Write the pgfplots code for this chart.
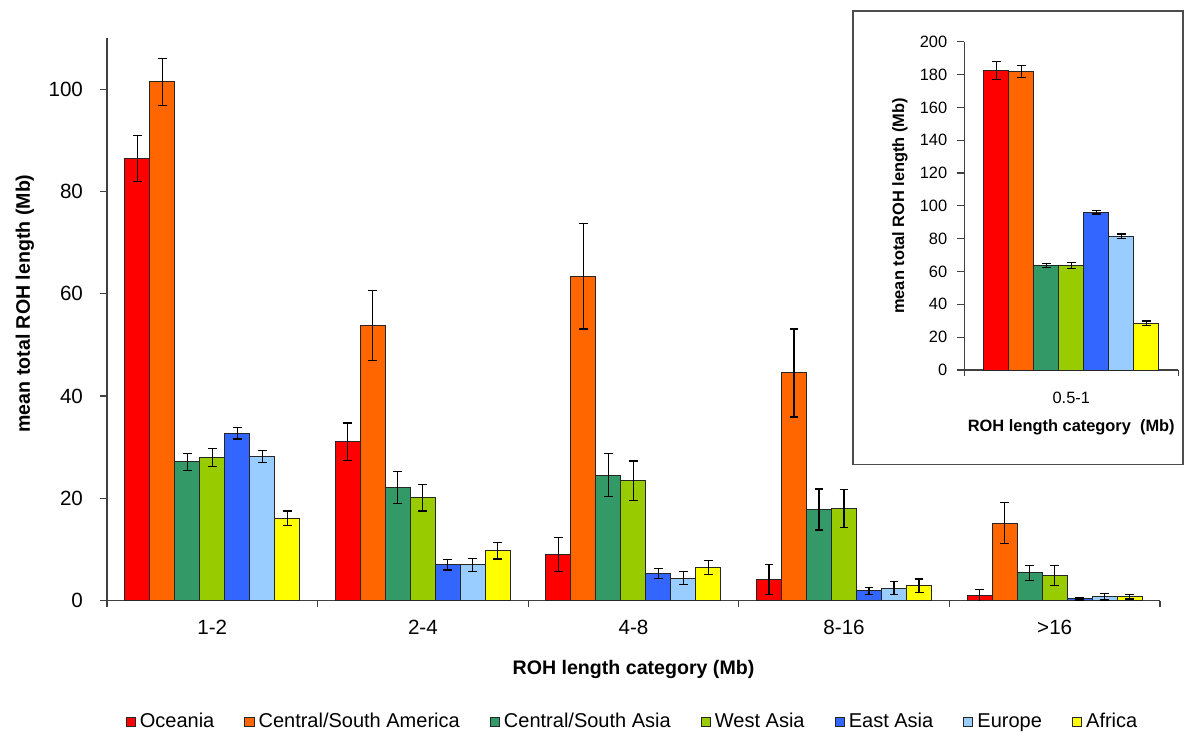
\documentclass[border=0pt]{standalone}
\usepackage{fontspec}
\setmainfont{Liberation Sans}
\usepackage{pgfplots}
\pgfplotsset{compat=1.18}
\definecolor{cOce}{HTML}{FF0000}
\definecolor{cCSA}{HTML}{FF6600}
\definecolor{cCSAs}{HTML}{339966}
\definecolor{cWAs}{HTML}{99CC00}
\definecolor{cEAs}{HTML}{3366FF}
\definecolor{cEur}{HTML}{99CCFF}
\definecolor{cAfr}{HTML}{FFFF00}
\definecolor{axgray}{HTML}{404040}
\pgfplotsset{
  roh/.style={
    scale only axis,
    axis lines=left,
    axis line style={-, draw=axgray, line width=0.6pt},
    tick style={draw=axgray, line width=0.6pt},
    tick align=outside,
    major tick length=3.5pt,
    minor tick length=3pt,
    major x tick style={draw=none},
    ybar=0pt,
    bar width=12.5pt,
    /pgf/number format/assume math mode=true,
    every axis plot/.append style={draw=black!85, line width=0.5pt},
    error bars/y dir=both,
    error bars/y explicit,
    error bars/error bar style={black, line width=0.6pt},
    error bars/error mark options={black, line width=0.6pt, mark size=2.2pt, rotate=90},
    legend image code/.code={\draw[#1, line width=0.5pt] (0pt,-2.3pt) rectangle (4.6pt,2.3pt);},
  }
}
\begin{document}
\begin{tikzpicture}
\path[use as bounding box] (-53.5pt,-67.25pt) rectangle (539pt,300.25pt);
\begin{axis}[roh,
  at={(0,0)}, anchor=south west,
  width=526.5pt, height=281.25pt,
  xmin=0.5, xmax=5.5, ymin=0, ymax=110,
  ytick={0,20,...,100},
  xtick={1,...,5}, xticklabels={1-2,2-4,4-8,8-16,>16},
  minor xtick={0.5,1.5,...,5.5},
  tick label style={font=\fontsize{10.3}{12}\selectfont},
  xticklabel style={yshift=-3pt},
  yticklabel style={xshift=-5pt},
  xlabel={ROH length category (Mb)},
  ylabel={mean total ROH length (Mb)},
  label style={font=\bfseries\fontsize{9.8}{12}\selectfont},
  xlabel style={at={(axis description cs:0.5,-0.1227)}, anchor=center},
  ylabel style={at={(axis description cs:-0.0779,0.528)}, anchor=center},
  legend columns=7,
  legend style={at={(0.5,-0.216)}, anchor=center, draw=none, fill=none,
    font=\fontsize{10}{12}\selectfont,
    /tikz/every even column/.append style={column sep=13pt}},
]
\addplot[fill=cOce] coordinates {(1,86.5) +- (0,4.5) (2,31.0) +- (0,3.7) (3,9.0) +- (0,3.35) (4,4.1) +- (0,2.9) (5,1.0) +- (0,1.2)};
\addplot[fill=cCSA] coordinates {(1,101.4) +- (0,4.6) (2,53.8) +- (0,6.8) (3,63.4) +- (0,10.3) (4,44.5) +- (0,8.6) (5,15.1) +- (0,4.0)};
\addplot[fill=cCSAs] coordinates {(1,27.1) +- (0,1.7) (2,22.1) +- (0,3.1) (3,24.5) +- (0,4.2) (4,17.8) +- (0,4.0) (5,5.4) +- (0,1.5)};
\addplot[fill=cWAs] coordinates {(1,28.0) +- (0,1.8) (2,20.1) +- (0,2.6) (3,23.4) +- (0,3.9) (4,18.0) +- (0,3.7) (5,4.9) +- (0,1.9)};
\addplot[fill=cEAs] coordinates {(1,32.7) +- (0,1.1) (2,7.0) +- (0,1.05) (3,5.3) +- (0,1.0) (4,1.9) +- (0,0.7) (5,0.3) +- (0,0.2)};
\addplot[fill=cEur] coordinates {(1,28.2) +- (0,1.2) (2,7.0) +- (0,1.25) (3,4.4) +- (0,1.2) (4,2.4) +- (0,1.3) (5,0.7) +- (0,0.6)};
\addplot[fill=cAfr] coordinates {(1,16.1) +- (0,1.4) (2,9.7) +- (0,1.6) (3,6.5) +- (0,1.4) (4,2.9) +- (0,1.3) (5,0.7) +- (0,0.4)};
\legend{Oceania,Central/South America,Central/South Asia,West Asia,East Asia,Europe,Africa}
\end{axis}
\draw[fill=white, draw=black!70, line width=0.8pt] (372.85pt,68.1pt) rectangle (538pt,294.75pt);
\begin{axis}[roh,
  at={(428.65pt,115.25pt)}, anchor=south west,
  width=107pt, height=164.15pt,
  xmin=0.5, xmax=1.5, ymin=0, ymax=200,
  ytick={0,20,...,200},
  xtick={1}, xticklabels={0.5-1},
  minor xtick={0.5,1.5},
  tick label style={font=\fontsize{8.2}{10}\selectfont},
  xticklabel style={yshift=-4pt},
  yticklabel style={xshift=-1.5pt},
  xlabel={ROH length category\ \ (Mb)},
  ylabel={mean total ROH length (Mb)},
  label style={font=\bfseries\fontsize{8.2}{10}\selectfont},
  xlabel style={at={(axis description cs:0.5,-0.1757)}, anchor=center},
  ylabel style={at={(axis description cs:-0.3005,0.5)}, anchor=center},
]
\addplot[fill=cOce] coordinates {(1,182.5) +- (0,5.5)};
\addplot[fill=cCSA] coordinates {(1,182.0) +- (0,3.7)};
\addplot[fill=cCSAs] coordinates {(1,63.5) +- (0,1.2)};
\addplot[fill=cWAs] coordinates {(1,63.5) +- (0,1.8)};
\addplot[fill=cEAs] coordinates {(1,96.2) +- (0,1.2)};
\addplot[fill=cEur] coordinates {(1,81.6) +- (0,1.3)};
\addplot[fill=cAfr] coordinates {(1,28.4) +- (0,1.5)};
\end{axis}
\end{tikzpicture}
\end{document}
